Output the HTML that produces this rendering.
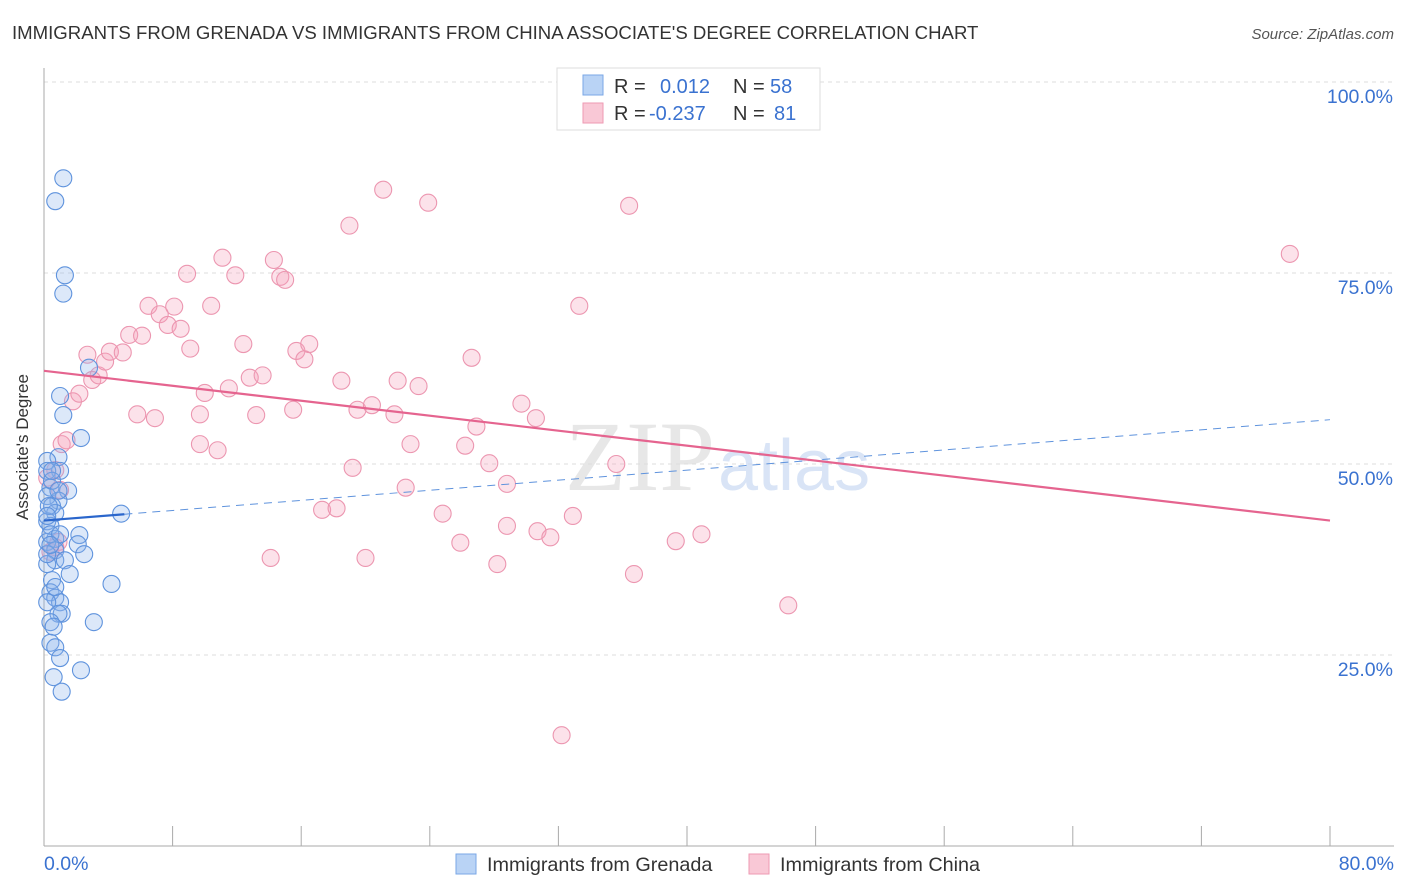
<!DOCTYPE html>
<html><head><meta charset="utf-8"><style>
body{margin:0;background:#fff;font-family:"Liberation Sans",sans-serif;}
svg{display:block}
</style></head><body>
<svg id="chart" width="1406" height="892">
<text x="12" y="39" font-size="18.6" fill="#333">IMMIGRANTS FROM GRENADA VS IMMIGRANTS FROM CHINA ASSOCIATE'S DEGREE CORRELATION CHART</text>
<text x="1394" y="39" font-size="15" fill="#555" font-style="italic" text-anchor="end">Source: ZipAtlas.com</text>
<g id="grid"></g>
<text x="715" y="490" font-size="100" fill="#ddd" text-anchor="end" font-family="Liberation Serif" opacity="0.7">ZIP</text>
<text x="718" y="490" font-size="72" fill="#c9daf3" opacity="0.7">atlas</text>
<g id="marks"></g>
<text x="36" y="455" font-size="17" fill="#333" text-anchor="middle" transform="rotate(-90 28 455)">Associate's Degree</text>
<g>
<rect x="557" y="68" width="263" height="62" fill="#fff" stroke="#ddd"/>
<rect x="583" y="75" width="20" height="20" fill="#b9d3f5" stroke="#7aa7e6"/>
<rect x="583" y="103" width="20" height="20" fill="#f9c8d6" stroke="#ee9ab3"/>
<text font-size="20" y="93"><tspan x="614" fill="#333">R = </tspan><tspan x="660" fill="#3a72d0">0.012</tspan><tspan x="733" fill="#333">N = </tspan><tspan x="770" fill="#3a72d0">58</tspan></text>
<text font-size="20" y="120"><tspan x="614" fill="#333">R = </tspan><tspan x="649" fill="#3a72d0">-0.237</tspan><tspan x="733" fill="#333">N = </tspan><tspan x="774" fill="#3a72d0">81</tspan></text>
</g>
<g>
<rect x="456" y="854" width="20" height="20" fill="#b9d3f5" stroke="#7aa7e6"/>
<text x="487" y="871" font-size="19.8" fill="#333">Immigrants from Grenada</text>
<rect x="749" y="854" width="20" height="20" fill="#f9c8d6" stroke="#ee9ab3"/>
<text x="780" y="871" font-size="19.8" fill="#333">Immigrants from China</text>
</g>
</svg>
<script>
const blueX=[1.2,0.7,1.3,1.2,2.8,1.0,1.2,2.3,0.9,0.2,1.0,1.5,0.4,0.9,0.2,0.5,0.7,0.2,0.4,0.7,2.2,2.1,0.2,0.7,2.5,0.7,1.3,0.2,1.6,0.5,4.2,0.4,0.7,1.0,1.1,0.9,0.4,3.1,0.6,0.4,0.7,1.0,2.3,0.6,1.1,4.8,0.2,0.5,0.4,0.2,0.3,0.2,0.7,1.0,0.5,0.2,0.4,0.9];
const blueY=[87.4,84.4,74.7,72.3,62.6,58.9,56.4,53.4,50.9,50.4,49.1,46.5,46.9,45.2,45.8,44.5,43.6,42.5,41.9,40.2,40.7,39.5,39.8,38.7,38.2,37.4,37.4,36.9,35.6,34.8,34.3,33.2,32.5,31.9,30.4,30.4,29.3,29.3,28.7,26.6,26.0,24.6,23.0,22.1,20.2,43.5,49.1,47.8,40.8,38.2,44.5,31.9,33.9,40.8,49.1,43.2,39.4,46.5];
const pinkX=[1.1,1.4,0.7,1.0,0.2,0.9,0.4,0.7,1.8,2.2,2.7,3.0,3.4,3.8,4.1,4.9,5.3,6.1,5.8,6.5,6.9,7.2,7.7,8.1,8.5,8.9,9.1,9.7,10.0,9.7,10.4,10.8,11.1,11.5,11.9,12.4,12.8,13.2,13.6,14.1,14.3,14.7,15.0,15.5,15.7,16.2,16.5,17.3,18.2,18.5,19.0,19.2,19.5,20.0,20.4,21.1,21.8,22.0,22.5,22.8,23.3,23.9,24.8,25.9,26.2,26.6,26.9,27.7,28.2,28.8,28.8,29.7,30.6,30.7,31.5,32.2,32.9,33.3,35.6,36.4,36.7,39.3,40.9,46.3,77.5];
const pinkY=[52.6,53.1,49.2,46.6,48.2,39.8,38.5,39.1,58.2,59.2,64.3,61.0,61.6,63.4,64.7,64.6,66.9,66.8,56.5,70.7,56.0,69.6,68.2,70.6,67.7,74.9,65.1,52.6,59.3,56.5,70.7,51.8,77.0,59.9,74.7,65.7,61.3,56.4,61.6,37.7,76.7,74.5,74.1,57.1,64.8,63.7,65.7,44.0,44.2,60.9,81.2,49.5,57.1,37.7,57.7,85.9,56.5,60.9,46.9,52.6,60.2,84.2,43.5,39.7,52.4,63.9,54.9,50.1,36.9,47.4,41.9,57.9,56.0,41.2,40.4,14.5,43.2,70.7,50.0,83.8,35.6,39.9,40.8,31.5,77.5];
const xTicks=[0,8,16,24,32,40,48,56,64,72,80];
const yTicks=[25,50,75,100];
const blueTrend=[42.6,55.8];
const pinkTrend=[62.2,42.6];
const NS='http://www.w3.org/2000/svg';
const sx=v=>44+v/80*1286, sy=v=>846-v/100*764;
function mk(tag,attrs,parent){const e=document.createElementNS(NS,tag);for(const k in attrs)e.setAttribute(k,attrs[k]);parent.appendChild(e);return e;}
const grid=document.getElementById('grid'),marks=document.getElementById('marks'),svg=document.getElementById('chart');
yTicks.forEach(t=>{
 const l=mk('line',{x1:44,x2:1394,y1:sy(t),y2:sy(t),stroke:'#ddd','stroke-dasharray':'4,4'},grid);
 
 
 const tx=mk('text',{x:1393,y:sy(t)+21,'font-size':19.5,fill:'#3a72d0','text-anchor':'end'},svg);
 tx.textContent=t.toFixed(1)+'%';
 
 
});
const ax=mk('line',{x1:44,x2:44,y1:68,y2:846,stroke:'#aaa'},grid);


const bx=mk('line',{x1:44,x2:1394,y1:846,y2:846,stroke:'#aaa'},grid);


xTicks.forEach(t=>{
 const l=mk('line',{x1:sx(t),x2:sx(t),y1:826,y2:846,stroke:'#aaa'},grid);
 
 
});
[[0,'0.0%','start',44],[80,'80.0%','end',1394]].forEach(([v,s,a,x])=>{
 const tx=mk('text',{x:x,y:870,'font-size':19.5,fill:'#3a72d0','text-anchor':a},svg);
 tx.textContent=s;
 
 
});
pinkX.forEach((x,i)=>{
 const c=mk('circle',{cx:sx(x),cy:sy(pinkY[i]),r:8.5,fill:'rgba(244,160,185,0.3)',stroke:'#ec96b0','stroke-width':1.1},marks);
 
 
});
blueX.forEach((x,i)=>{
 const c=mk('circle',{cx:sx(x),cy:sy(blueY[i]),r:8.5,fill:'rgba(140,180,235,0.3)',stroke:'#5f93dd','stroke-width':1.1},marks);
 
 
});
const bt=v=>blueTrend[0]+(blueTrend[1]-blueTrend[0])*v/80;
let l=mk('line',{x1:sx(5),y1:sy(bt(5)),x2:sx(80),y2:sy(bt(80)),stroke:'#5f93dd','stroke-width':1,'stroke-dasharray':'8,6'},marks);


l=mk('line',{x1:sx(0),y1:sy(bt(0)),x2:sx(5),y2:sy(bt(5)),stroke:'#2a66cc','stroke-width':2.2},marks);


l=mk('line',{x1:sx(0),y1:sy(pinkTrend[0]),x2:sx(80),y2:sy(pinkTrend[1]),stroke:'#e5648f','stroke-width':2.2},marks);


</script>
</body></html>
